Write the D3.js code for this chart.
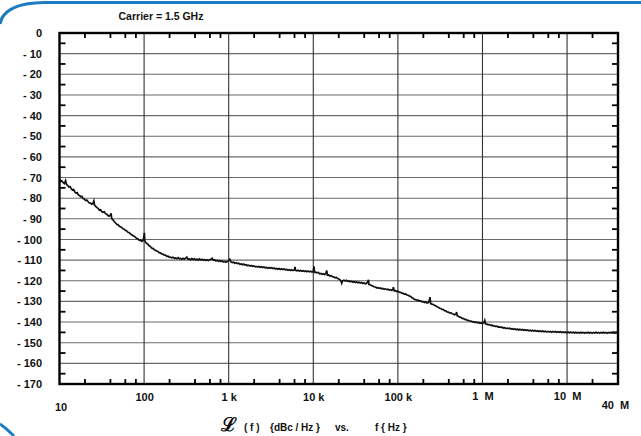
<!DOCTYPE html>
<html>
<head>
<meta charset="utf-8">
<script src="https://cdn.jsdelivr.net/npm/d3@7/dist/d3.min.js"></script>
<style>
  html, body { margin: 0; padding: 0; background: #fff; }
  svg { display: block; }
  text { font-family: "Liberation Sans", Arial, sans-serif; font-weight: bold; fill: #111; }
</style>
</head>
<body>
<svg id="chart" width="641" height="436"></svg>
<script>
// ---- data ----
const title = "Carrier = 1.5 GHz";
// measured trace: [offset frequency (Hz), L(f) (dBc/Hz)]
const tracePoints = [
[10,-71.0],[10.3,-71.9],[10.6,-71.5],[11.0,-72.4],[11.4,-72.9],[11.8,-71.4],[12.1,-73.3],[12.5,-73.9],[12.9,-74.6],[13.3,-74.4],[13.8,-75.4],[14.2,-76.0],[14.7,-75.8],[15.2,-77.0],[15.7,-77.6],[16.2,-77.3],[16.7,-78.4],[17.2,-78.7],[17.8,-79.3],[18.4,-79.1],[19.0,-80.2],[19.6,-80.4],[20.3,-81.1],[21.0,-80.9],[21.7,-81.6],[22.4,-82.2],[23.2,-82.4],[24.0,-82.9],[24.8,-82.6],[25.5,-81.3],[26.0,-83.5],[26.8,-84.0],[27.7,-84.6],[28.6,-84.9],[29.6,-85.8],[30.6,-85.6],[31.6,-86.5],[32.7,-86.8],[33.8,-86.6],[35.0,-87.5],[36.2,-87.8],[37.4,-88.4],[38.6,-88.7],[40.0,-88.2],[40.7,-87.3],[41.4,-89.8],[42.8,-90.5],[44.3,-91.3],[45.8,-91.9],[47.4,-92.6],[49.0,-92.8],[50.7,-93.5],[52.5,-93.9],[54.3,-94.2],[56.2,-94.8],[58.2,-95.0],[60.2,-95.6],[62.3,-95.9],[64.5,-96.5],[66.7,-96.7],[69.0,-97.3],[71.4,-97.7],[73.9,-98.2],[76.5,-98.4],[79.2,-99.0],[82.0,-99.5],[84.8,-99.8],[87.8,-100.4],[90.8,-100.3],[94.0,-100.9],[97.2,-100.5],[99.5,-98.5],[100.8,-96.8],[101.8,-100.2],[103.5,-101.2],[107,-101.9],[110.7,-102.3],[114.6,-103.1],[118.6,-103.4],[122.7,-104.1],[127,-104.3],[131.4,-104.9],[136,-105.2],[140.8,-105.6],[145.7,-105.8],[150.8,-106.4],[156,-106.5],[161.5,-107.0],[167,-107.1],[173,-107.6],[179,-107.6],[185,-108.2],[192,-108.1],[198,-108.6],[205,-108.5],[212,-108.9],[220,-108.6],[227,-109.1],[235,-108.9],[243,-109.3],[252,-108.8],[261,-109.4],[270,-109.2],[279,-109.6],[289,-109.1],[299,-109.5],[309,-109.0],[320,-108.5],[331,-109.6],[343,-109.4],[355,-109.8],[367,-109.3],[380,-109.7],[393,-109.4],[407,-109.9],[421,-109.5],[436,-110.0],[451,-109.4],[467,-109.9],[483,-109.6],[500,-110.1],[518,-109.7],[536,-110.2],[555,-109.8],[574,-110.2],[594,-109.9],[615,-109.6],[636,-109.1],[658,-110.0],[681,-109.8],[705,-110.4],[730,-110.1],[755,-110.5],[782,-110.2],[809,-110.7],[837,-110.4],[867,-110.9],[897,-110.6],[928,-111.0],[961,-110.7],[995,-110.4],[1030,-109.6],[1066,-110.9],[1103,-111.2],[1142,-111.0],[1182,-111.5],[1223,-111.3],[1266,-111.7],[1311,-111.5],[1357,-112.0],[1404,-111.8],[1453,-112.2],[1504,-111.9],[1557,-112.4],[1612,-112.2],[1668,-112.7],[1727,-112.5],[1787,-112.9],[1850,-112.6],[1915,-113.0],[1982,-112.8],[2051,-113.2],[2123,-113.0],[2198,-113.4],[2275,-113.1],[2355,-113.5],[2437,-113.2],[2522,-113.6],[2611,-113.3],[2702,-113.7],[2797,-113.5],[2895,-113.9],[2996,-113.6],[3101,-114.0],[3210,-113.7],[3322,-114.1],[3439,-113.8],[3559,-114.3],[3684,-114.0],[3813,-114.4],[3947,-114.1],[4085,-114.5],[4228,-114.2],[4377,-114.6],[4530,-114.3],[4689,-114.7],[4853,-114.5],[5023,-114.9],[5199,-114.6],[5382,-115.0],[5570,-114.7],[5765,-115.1],[5967,-114.8],[6080,-113.3],[6180,-115.0],[6400,-115.2],[6620,-114.9],[6850,-115.3],[7090,-115.0],[7340,-115.4],[7600,-115.1],[7870,-115.5],[8140,-115.2],[8430,-115.6],[8720,-115.3],[9030,-115.7],[9340,-115.4],[9670,-115.8],[10000,-115.5],[10200,-113.0],[10350,-115.9],[10710,-115.8],[11090,-116.2],[11480,-116.0],[11880,-116.6],[12300,-116.4],[12730,-116.9],[13170,-116.6],[13630,-117.0],[14100,-116.4],[14400,-115.0],[14700,-117.3],[15200,-117.2],[15750,-117.7],[16300,-117.5],[16870,-118.0],[17460,-118.1],[18070,-118.6],[18700,-118.4],[19350,-118.9],[20030,-119.1],[20730,-119.6],[21450,-120.5],[21700,-121.2],[22200,-120.0],[23000,-119.7],[23800,-120.1],[24600,-119.8],[25500,-120.3],[26400,-120.1],[27300,-120.5],[28300,-120.2],[29300,-120.7],[30300,-120.4],[31400,-120.8],[32500,-120.5],[33600,-121.0],[34800,-120.7],[36000,-121.1],[37300,-120.8],[38600,-121.3],[39900,-121.1],[41300,-121.5],[42800,-121.2],[44300,-120.2],[44900,-119.6],[45500,-121.8],[47100,-121.9],[48800,-122.3],[50500,-122.5],[52200,-122.9],[54100,-123.0],[56000,-123.4],[57900,-123.3],[60000,-123.7],[62000,-123.5],[64200,-123.9],[66500,-123.7],[68800,-124.1],[71200,-123.9],[73700,-124.3],[76300,-124.1],[79000,-124.5],[81700,-124.3],[84600,-124.7],[87500,-124.1],[88500,-123.1],[90500,-124.9],[93700,-124.8],[97000,-125.2],[100400,-125.0],[103900,-125.5],[107500,-125.6],[111300,-126.0],[115200,-126.1],[119200,-126.5],[123400,-126.4],[127700,-126.9],[132200,-127.0],[136800,-127.4],[141600,-127.6],[146500,-128.2],[151700,-128.5],[157000,-129.0],[162500,-129.1],[168200,-129.5],[174000,-129.4],[180100,-129.9],[186400,-129.8],[193000,-130.2],[199700,-130.1],[206700,-130.5],[214000,-130.3],[221500,-130.8],[229200,-130.6],[236000,-129.4],[240000,-127.9],[244000,-131.0],[252500,-131.3],[261300,-131.5],[270500,-131.9],[280000,-132.1],[289800,-132.6],[300000,-132.8],[310500,-133.3],[321300,-133.4],[332600,-133.9],[344200,-134.0],[356300,-134.5],[368800,-134.6],[381700,-135.1],[395000,-135.2],[408900,-135.6],[423200,-135.6],[438000,-136.0],[453300,-136.1],[469200,-136.5],[485600,-136.2],[495000,-135.2],[503000,-137.0],[520000,-137.2],[538000,-137.6],[557000,-137.8],[577000,-138.2],[597000,-138.3],[618000,-138.7],[640000,-138.8],[662000,-139.2],[685000,-139.2],[709000,-139.6],[734000,-139.5],[760000,-139.9],[786000,-139.8],[814000,-140.2],[842000,-140.0],[872000,-140.4],[902000,-140.2],[934000,-140.6],[967000,-140.4],[1000000,-140.7],[1040000,-140.3],[1065000,-139.2],[1090000,-140.9],[1130000,-141.0],[1170000,-141.3],[1210000,-141.2],[1250000,-141.6],[1300000,-141.5],[1340000,-141.9],[1390000,-141.8],[1440000,-142.2],[1490000,-142.0],[1540000,-142.4],[1600000,-142.3],[1650000,-142.6],[1710000,-142.5],[1770000,-142.9],[1830000,-142.7],[1900000,-143.1],[1960000,-142.9],[2030000,-143.2],[2100000,-143.0],[2180000,-143.4],[2250000,-143.2],[2330000,-143.5],[2420000,-143.3],[2500000,-143.7],[2590000,-143.4],[2680000,-143.8],[2770000,-143.5],[2870000,-143.9],[2970000,-143.6],[3080000,-144.0],[3180000,-143.7],[3300000,-144.1],[3410000,-143.8],[3530000,-144.2],[3660000,-143.9],[3790000,-144.3],[3920000,-144.0],[4050000,-144.4],[4200000,-144.1],[4340000,-144.5],[4500000,-144.2],[4650000,-144.6],[4820000,-144.3],[4990000,-144.6],[5160000,-144.3],[5340000,-144.7],[5530000,-144.4],[5730000,-144.8],[5930000,-144.5],[6130000,-144.8],[6350000,-144.5],[6570000,-144.9],[6800000,-144.6],[7040000,-144.9],[7290000,-144.6],[7550000,-145.0],[7810000,-144.7],[8080000,-145.0],[8370000,-144.7],[8660000,-145.1],[8960000,-144.8],[9280000,-145.1],[9600000,-144.8],[9940000,-145.2],[10290000,-144.8],[10650000,-145.2],[11020000,-144.9],[11410000,-145.2],[11810000,-144.9],[12220000,-145.3],[12650000,-144.9],[13100000,-145.3],[13550000,-145.0],[14030000,-145.3],[14520000,-144.9],[15030000,-145.3],[15550000,-145.0],[16100000,-145.4],[16660000,-145.0],[17250000,-145.3],[17850000,-144.9],[18480000,-145.3],[19120000,-145.0],[19790000,-145.4],[20490000,-145.0],[21210000,-145.3],[21950000,-144.9],[22720000,-145.3],[23510000,-145.0],[24340000,-145.4],[25190000,-145.0],[26070000,-145.3],[26990000,-144.9],[27930000,-145.3],[28910000,-145.0],[29920000,-145.4],[30970000,-145.0],[32060000,-145.3],[33180000,-144.9],[34340000,-145.3],[35540000,-145.0],[36790000,-145.4],[38080000,-145.0],[39410000,-145.3],[40000000,-145.1]
];
const yTickValues = [0,-10,-20,-30,-40,-50,-60,-70,-80,-90,-100,-110,-120,-130,-140,-150,-160,-170];
const yTickLabels = ["0","- 10","- 20","- 30","- 40","- 50","- 60","- 70","- 80","- 90","- 100","- 110","- 120","- 130","- 140","- 150","- 160","- 170"];
const yMinorTicks = [-5,-15,-25,-35,-45,-55,-65,-75,-85,-95,-105,-115,-125,-135,-145,-155,-165];
const xDecades = [100,1e3,1e4,1e5,1e6,1e7];
const xTickValues = [10,100,1e3,1e4,1e5,1e6,1e7,4e7];
const xTickLabels = ["10","100","1 k","10 k","100 k","1\u00a0\u00a0M","10\u00a0\u00a0M","40\u00a0\u00a0M"];
const xMinorTicks = [20,40,60,80,200,400,600,800,2e3,4e3,6e3,8e3,2e4,4e4,6e4,8e4,2e5,4e5,6e5,8e5,2e6,4e6,6e6,8e6,2e7];

// ---- layout ----
const svg = d3.select("#chart");
const L = 59.5, R = 618, T = 33, B = 384;
const x = d3.scaleLog().domain([10, 4e7]).range([L, R]);
const y = d3.scaleLinear().domain([0, -170]).range([T, B]);

// blue decorative frame
svg.append("path").attr("d", "M0,24 Q4,3 44,2.5 L641,2.5")
  .attr("fill", "none").attr("stroke", "#1b7cc3").attr("stroke-width", 3.2);
svg.append("path").attr("d", "M0,424 Q7,429 14,436")
  .attr("fill", "none").attr("stroke", "#1b7cc3").attr("stroke-width", 3);

// title
svg.append("text").attr("x", 161).attr("y", 20).attr("text-anchor", "middle")
  .attr("font-size", 10.5).text(title);

// horizontal gridlines
svg.append("g").selectAll("line").data(yTickValues.slice(1, -1)).join("line")
  .attr("x1", L).attr("x2", R).attr("y1", d => y(d)).attr("y2", d => y(d))
  .attr("stroke", "#6a6a6a").attr("stroke-width", 1.1);

// vertical decade gridlines
svg.append("g").selectAll("line").data(xDecades).join("line")
  .attr("x1", d => x(d)).attr("x2", d => x(d)).attr("y1", T).attr("y2", B)
  .attr("stroke", "#333").attr("stroke-width", 1.1);

// minor ticks (inward)
const tk = svg.append("g").attr("stroke", "#000").attr("stroke-width", 1.8);
tk.selectAll("line.yl").data(yMinorTicks).join("line").attr("class", "yl")
  .attr("x1", L).attr("x2", L + 6).attr("y1", d => y(d)).attr("y2", d => y(d));
tk.selectAll("line.yr").data(yMinorTicks).join("line").attr("class", "yr")
  .attr("x1", R).attr("x2", R - 6).attr("y1", d => y(d)).attr("y2", d => y(d));
tk.selectAll("line.xt").data(xMinorTicks).join("line").attr("class", "xt")
  .attr("x1", d => x(d)).attr("x2", d => x(d)).attr("y1", T).attr("y2", T + 5);
tk.selectAll("line.xb").data(xMinorTicks).join("line").attr("class", "xb")
  .attr("x1", d => x(d)).attr("x2", d => x(d)).attr("y1", B).attr("y2", B - 5);

// y axis labels
const yAxis = d3.axisLeft(y).tickValues(yTickValues)
  .tickFormat((d, i) => yTickLabels[i]).tickSize(0).tickPadding(17.5);
const ya = svg.append("g").attr("transform", `translate(${L},0)`).call(yAxis);
ya.select(".domain").remove();
ya.selectAll("text").attr("font-size", 11).attr("font-family", "Liberation Sans, Arial, sans-serif")
  .attr("font-weight", "bold").attr("fill", "#111");

// x axis labels
const xLabelY = [411, 401, 401, 401, 400.5, 400, 399.5, 409];
const xAxis = d3.axisBottom(x).tickValues(xTickValues)
  .tickFormat((d, i) => xTickLabels[i]).tickSize(0);
const xa = svg.append("g").attr("transform", `translate(0,${B})`).call(xAxis);
xa.select(".domain").remove();
xa.selectAll("text").attr("font-size", 11).attr("font-family", "Liberation Sans, Arial, sans-serif")
  .attr("font-weight", "bold").attr("fill", "#111")
  .attr("dy", null).attr("y", (d, i) => xLabelY[i] - B)
  .attr("dx", (d, i) => i === 0 ? 1 : (i === 7 ? -3 : 0));

// noise trace
const line = d3.line().x(d => x(d[0])).y(d => y(d[1]));
svg.append("path").datum(tracePoints).attr("d", line)
  .attr("fill", "none").attr("stroke", "#111").attr("stroke-width", 1.7)
  .attr("stroke-linejoin", "miter");

// frame
svg.append("rect").attr("x", L).attr("y", T).attr("width", R - L).attr("height", B - T)
  .attr("fill", "none").attr("stroke", "#000").attr("stroke-width", 2.4);

// bottom axis caption
const cap = svg.append("g");
cap.append("text").attr("x", 221).attr("y", 431).attr("font-family", "DejaVu Sans, sans-serif")
  .attr("font-weight", "normal").attr("font-size", 19).text("\u2112");
cap.append("text").attr("x", 244).attr("y", 431).attr("font-size", 10).text("( f )");
cap.append("text").attr("x", 270).attr("y", 431).attr("font-size", 10).text("{dBc / Hz }");
cap.append("text").attr("x", 335).attr("y", 431).attr("font-size", 10).text("vs.");
cap.append("text").attr("x", 375).attr("y", 431).attr("font-size", 10).text("f  { Hz }");
</script>
</body>
</html>
